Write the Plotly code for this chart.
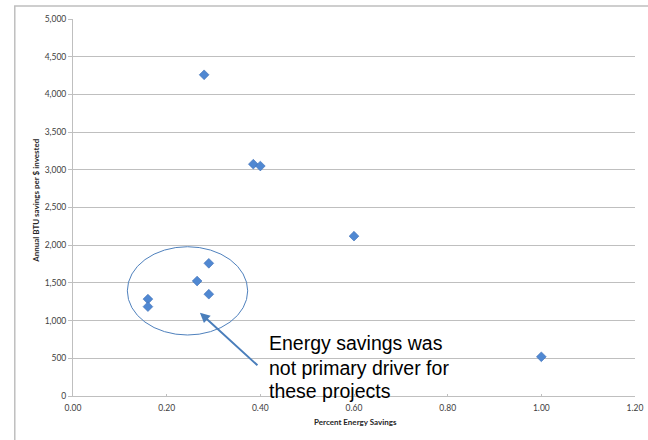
import plotly.graph_objects as go

# Project results: fraction of energy saved vs. annual BTU saved per dollar invested
percent_savings = [0.28, 0.385, 0.40, 0.60, 1.00, 0.29, 0.265, 0.29, 0.16, 0.16]
btu_per_dollar = [4260, 3075, 3050, 2120, 520, 1760, 1525, 1350, 1285, 1185]

x_ticks = [0.0, 0.2, 0.4, 0.6, 0.8, 1.0, 1.2]
y_ticks = [0, 500, 1000, 1500, 2000, 2500, 3000, 3500, 4000, 4500, 5000]

note_lines = ["Energy savings was", "not primary driver for", "these projects"]
note_line_y = [703, 378, 60]

BLUE = "#4F81BD"
GRAY = "#BFBFBF"
TICK_FONT = dict(family="Lato, Open Sans, sans-serif", size=8.5, color="#404040")

fig = go.Figure()
fig.add_trace(go.Scatter(
    x=percent_savings, y=btu_per_dollar, mode="markers",
    marker=dict(symbol="diamond", size=7.5, color="#5088D2",
                line=dict(color="#3E6FB5", width=0.6)),
    hoverinfo="x+y", showlegend=False,
))

fig.update_layout(
    width=648, height=440,
    margin=dict(l=73, r=13, t=19, b=44, autoexpand=False),
    paper_bgcolor="white", plot_bgcolor="white",
    showlegend=False,
    xaxis=dict(
        range=[0, 1.2], tickvals=x_ticks,
        ticktext=[f"{v:.2f}" for v in x_ticks],
        showgrid=False, zeroline=False, automargin=False,
        showline=True, linecolor=GRAY, linewidth=1,
        ticks="inside", ticklen=2, tickcolor=GRAY,
        ticklabelstandoff=4,
        tickfont=TICK_FONT,
    ),
    yaxis=dict(
        range=[0, 5000], tickvals=y_ticks,
        ticktext=[f"{v:,}" for v in y_ticks],
        showgrid=True, gridcolor=GRAY, gridwidth=1, zeroline=False, automargin=False,
        showline=True, linecolor=GRAY, linewidth=1,
        ticks="outside", ticklen=4, tickcolor=GRAY,
        tickfont=TICK_FONT,
    ),
)

# Outer chart frame (runs off the page on the right and bottom)
fig.add_shape(type="rect", xref="paper", yref="paper",
              x0=-0.1036, x1=1.04, y0=-0.13, y1=1.0345,
              line=dict(color=GRAY, width=1.5), layer="below")

# Axis titles
fig.add_annotation(text="<b>Percent Energy Savings</b>", xref="paper", yref="paper",
                   x=0.502, y=-0.069, showarrow=False, xanchor="center", yanchor="middle",
                   font=dict(family="Lato, Open Sans, sans-serif", size=8, color="#262626"))
fig.add_annotation(text="<b>Annual BTU savings per $ invested</b>", xref="paper", yref="paper",
                   x=-0.066, y=0.52, showarrow=False, textangle=-90,
                   xanchor="center", yanchor="middle",
                   font=dict(family="Lato, Open Sans, sans-serif", size=8, color="#262626"))

# Ellipse around the cluster of low-savings projects
fig.add_shape(type="circle", xref="x", yref="y",
              x0=0.116, x1=0.373, y0=809, y1=1980,
              line=dict(color=BLUE, width=1))

# Arrow pointing into the cluster
fig.add_annotation(x=0.271, y=1105, ax=0.397, ay=389, xref="x", yref="y",
                   axref="x", ayref="y", text="", showarrow=True,
                   arrowhead=2, arrowsize=1, arrowwidth=2, arrowcolor="#4A7EBB")

# Explanatory note, one annotation per line for tighter leading
for line, yv in zip(note_lines, note_line_y):
    fig.add_annotation(text=line, xref="x", yref="y",
                       x=0.4157, y=yv, showarrow=False, xanchor="left", yanchor="middle",
                       align="left", borderpad=0,
                       font=dict(family="Liberation Sans, Arial, sans-serif", size=19.5,
                                 color="black"))

fig.write_html("out.html")
